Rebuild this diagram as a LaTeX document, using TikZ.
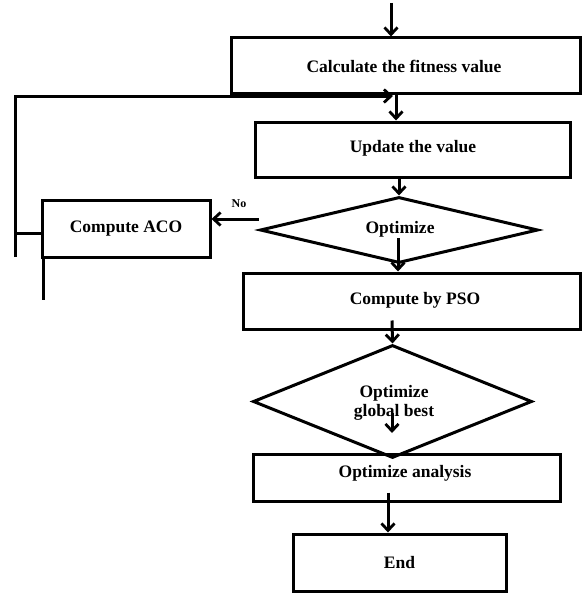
\documentclass[tikz,border=0pt]{standalone}
\usepackage{fontspec}
\setmainfont{Liberation Serif}
\usetikzlibrary{arrows.meta,shapes.geometric,calc}
\begin{document}
\begin{tikzpicture}[x=1pt,y=-1pt,
  every node/.style={font=\bfseries\fontsize{17.5}{19}\selectfont},
  boxnode/.style={draw,line width=3pt,rectangle,inner sep=0pt},
  dianode/.style={draw,line width=3pt,diamond,inner sep=0pt,align=center},
  conn/.style={line width=3pt},
  arr/.style={line width=3pt,-{Straight Barb[length=7pt,width=13pt,line width=2.8pt]}}]
\useasboundingbox (0,0) rectangle (581,594);
% nodes
\node[boxnode,minimum width=349pt,minimum height=55pt] (calc) at (405.5,65.5) {};
\node at (404,66) {Calculate the fitness value};
\node[boxnode,minimum width=315pt,minimum height=55pt] (update) at (412.5,149.5) {};
\node at (413,148) {Update the value};
\node[dianode,minimum width=278pt,minimum height=66pt] (dia1) at (399,230) {};
\node at (400,229) {Optimize};
\node[boxnode,minimum width=168pt,minimum height=57pt] (aco) at (126,228.5) {Compute ACO};
\node[boxnode,minimum width=337pt,minimum height=56pt] (pso) at (411.5,301) {};
\node at (415,300) {Compute by PSO};
\node[dianode,minimum width=279pt,minimum height=113pt] (dia2) at (392.5,401.5) {};
\node[align=center] at (394,402.5) {Optimize\\ global best};
\node[boxnode,minimum width=307pt,minimum height=47pt] (opt) at (406.5,477.5) {};
\node at (405,473) {Optimize analysis};
\node[boxnode,minimum width=213pt,minimum height=57pt] (endn) at (399.5,562.5) {End};
% coordinates
\coordinate (start) at (391,3);
\coordinate (join) at (393,96);
\coordinate (lbot) at (15,257);
\coordinate (acostub) at (43,300);
\coordinate (d2in) at (392,413);
\coordinate (d2out) at (392,433);
% connectors
\draw[arr] (start) -- (start |- calc.north);
\draw[arr] (calc.south -| 396,0) -- (update.north -| 396,0);
\draw[conn] (aco.west |- 0,233) -- (15,233);
\draw[arr] (lbot) |- (join);
\draw[conn] (aco.south -| acostub) -- (acostub);
\draw[arr] (update.south -| dia1.north) -- (dia1.north);
\draw[arr] ($(dia1.center)+(-1,8)$) -- (pso.north -| 398,0);
\draw[arr] (dia1.west |- 0,219) -- (aco.east |- 0,219);
\node[font=\bfseries\fontsize{12}{14}\selectfont] (no) at (239,204) {No};
\draw[arr] (pso.south -| 392,0) ++(0,-10) -- (dia2.north);
\draw[arr] (d2in) -- (d2out);
\draw[arr] (opt.south -| 388,0) ++(0,-10) -- (endn.north -| 388,0);
\end{tikzpicture}
\end{document}
